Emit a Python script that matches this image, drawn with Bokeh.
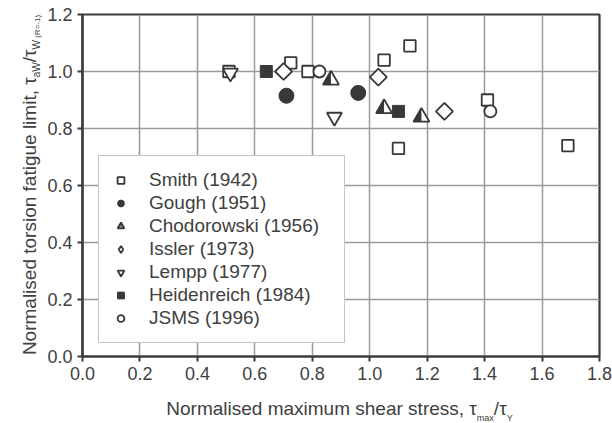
import math
from bokeh.plotting import figure
from bokeh.models import Range1d, FixedTicker, PrintfTickFormatter, Legend, LegendItem, Div
from bokeh.layouts import column, row
from bokeh.embed import file_html
from bokeh.resources import INLINE

# ---------------- data ----------------
series_labels = ["Smith (1942)", "Gough (1951)", "Chodorowski (1956)", "Issler (1973)",
                 "Lempp (1977)", "Heidenreich (1984)", "JSMS (1996)"]
smith_x = [0.51, 0.725, 0.785, 1.05, 1.14, 1.10, 1.41, 1.69]
smith_y = [1.00, 1.03, 1.00, 1.04, 1.09, 0.73, 0.90, 0.74]
gough_x = [0.71, 0.96]
gough_y = [0.915, 0.925]
chod_x = [0.865, 1.05, 1.18]
chod_y = [0.97, 0.87, 0.84]
issler_x = [0.70, 1.03, 1.26]
issler_y = [1.00, 0.98, 0.86]
lempp_x = [0.515, 0.877]
lempp_y = [0.995, 0.84]
heid_x = [0.64, 1.10]
heid_y = [1.00, 0.86]
jsms_x = [0.825, 1.42]
jsms_y = [1.00, 0.86]
x_ticks = [0.0, 0.2, 0.4, 0.6, 0.8, 1.0, 1.2, 1.4, 1.6, 1.8]
y_ticks = [0.0, 0.2, 0.4, 0.6, 0.8, 1.0, 1.2]

# ---------------- layout ----------------
TOTAL_W, TOTAL_H = 612, 423
YT_W = 44                      # width of the y-title strip
FW, FH = 517, 342
BL, BT, BB = 81 - YT_W, 14, 38
FIG_W = TOTAL_W - YT_W
FIG_H = BT + FH + BB
BR = FIG_W - BL - FW
XT_H = TOTAL_H - FIG_H
FONT = "Liberation Sans"
TXT = "#404040"
LC = "#383838"
AX = "#3a3a3a"

p = figure(frame_width=FW, frame_height=FH, x_range=Range1d(0, 1.8), y_range=Range1d(0, 1.2),
           output_backend="svg", toolbar_location=None,
           min_border_left=BL, min_border_right=BR, min_border_top=BT, min_border_bottom=BB)
p.background_fill_color = "white"
p.border_fill_color = "white"
p.outline_line_color = AX
p.outline_line_width = 2.2
p.outline_line_alpha = 1.0

p.xaxis.ticker = FixedTicker(ticks=x_ticks)
p.yaxis.ticker = FixedTicker(ticks=y_ticks)
for ax in (p.xaxis[0], p.yaxis[0]):
    ax.formatter = PrintfTickFormatter(format="%.1f")
    ax.axis_line_color = AX
    ax.axis_line_width = 2.2
    ax.major_tick_line_color = AX
    ax.major_tick_line_width = 2
    ax.major_tick_out = 5
    ax.major_tick_in = 0
    ax.minor_tick_line_color = None
    ax.major_label_text_font = FONT
    ax.major_label_text_font_size = "18px"
    ax.major_label_text_color = TXT
    ax.major_label_standoff = 5
for g in (p.xgrid[0], p.ygrid[0]):
    g.grid_line_color = "#9a9a9a"
    g.grid_line_width = 1.5

# ---------------- marks ----------------
LW = 1.8
r_smith = p.scatter(smith_x, smith_y, marker="square", size=11.5, line_color=LC, line_width=LW,
                    fill_color="white")
r_gough = p.scatter(gough_x, gough_y, marker="circle", size=15, line_color=LC, line_width=1,
                    fill_color=LC)
# Chodorowski: half-filled triangle
r_chod_leg = p.scatter(chod_x, chod_y, marker="triangle", size=5, line_color=None,
                       fill_color=LC, fill_alpha=0.6)
r_chod = p.scatter(chod_x, chod_y, marker="triangle", size=16, line_color=LC, line_width=LW,
                   fill_color="white")
px_x = FW / 1.8
px_y = FH / 1.2
tr = 16 / 2.0
th = tr * math.sqrt(3)
half_xs = [[x, x - tr / px_x, x] for x in chod_x]
half_ys = [[y + (2 * th / 3) / px_y, y - (th / 3) / px_y, y - (th / 3) / px_y] for y in chod_y]
p.patches(half_xs, half_ys, fill_color=LC, line_color=None)
# Issler: diamond (rotated square); legend uses a tall diamond hidden beneath
r_iss_leg = p.scatter(issler_x, issler_y, marker="diamond", size=10, line_color=LC, line_width=LW,
                      fill_color="white")
r_iss = p.scatter(issler_x, issler_y, marker="square", angle=math.pi / 4, size=12, line_color=LC,
                  line_width=LW, fill_color="white")
r_lempp = p.scatter(lempp_x, lempp_y, marker="inverted_triangle", size=15, line_color=LC,
                    line_width=LW, fill_color="white")
r_heid = p.scatter(heid_x, heid_y, marker="square", size=12, line_color=LC, line_width=1,
                   fill_color=LC)
r_jsms = p.scatter(jsms_x, jsms_y, marker="circle", size=12, line_color=LC, line_width=LW,
                   fill_color="white")

legend = Legend(items=[
    LegendItem(label=series_labels[0], renderers=[r_smith]),
    LegendItem(label=series_labels[1], renderers=[r_gough]),
    LegendItem(label=series_labels[2], renderers=[r_chod, r_chod_leg]),
    LegendItem(label=series_labels[3], renderers=[r_iss_leg]),
    LegendItem(label=series_labels[4], renderers=[r_lempp]),
    LegendItem(label=series_labels[5], renderers=[r_heid]),
    LegendItem(label=series_labels[6], renderers=[r_jsms]),
], location=(16, 13))
legend.label_text_font = FONT
legend.label_text_font_size = "19px"
legend.label_text_color = TXT
legend.border_line_color = "#8a8a8a"
legend.border_line_width = 1.5
legend.background_fill_color = "white"
legend.background_fill_alpha = 1.0
legend.padding = 13
legend.spacing = 1
legend.margin = 0
legend.glyph_width = 17
legend.glyph_height = 20
legend.label_height = 20
legend.label_width = 182
legend.label_standoff = 20
p.add_layout(legend)

# ---------------- axis titles (HTML text with real subscripts) ----------------
BASE = f"font-family:'{FONT}';color:{TXT};white-space:nowrap;"
SUB = "line-height:0;vertical-align:{d}px;font-size:{s}px;"

x_html = (
    f"<div style=\"{BASE}font-size:19px;line-height:22px;padding-top:4px;"
    f"margin-left:{81}px;width:{FW}px;text-align:center;\">"
    "Normalised maximum shear stress, τ"
    f"<span style=\"{SUB.format(d=-6, s=9)}\">max</span>/τ"
    f"<span style=\"{SUB.format(d=-6, s=9)}\">Y</span></div>"
)
y_html = (
    f"<div style=\"position:relative;width:{YT_W}px;height:{FIG_H}px;\">"
    f"<div style=\"position:absolute;left:19px;top:{BT + FH}px;width:{FH}px;height:24px;"
    f"transform-origin:0 0;transform:rotate(-90deg);{BASE}font-size:19px;line-height:22px;"
    "text-align:center;\">"
    "Normalised torsion fatigue limit, τ"
    f"<span style=\"{SUB.format(d=-4, s=10)}\">aW</span>/τ"
    f"<span style=\"{SUB.format(d=-4, s=10)}\">W</span>"
    f"<span style=\"{SUB.format(d=-4, s=8)}\"> (R=-1)</span></div></div>"
)

x_title = Div(text=x_html, width=TOTAL_W, height=XT_H, margin=0)
y_title = Div(text=y_html, width=YT_W, height=FIG_H, margin=0)
p.margin = 0

layout = column(row(y_title, p, spacing=0, margin=0), x_title, spacing=0, margin=0)

open("out.html", "w").write(file_html(layout, INLINE))
